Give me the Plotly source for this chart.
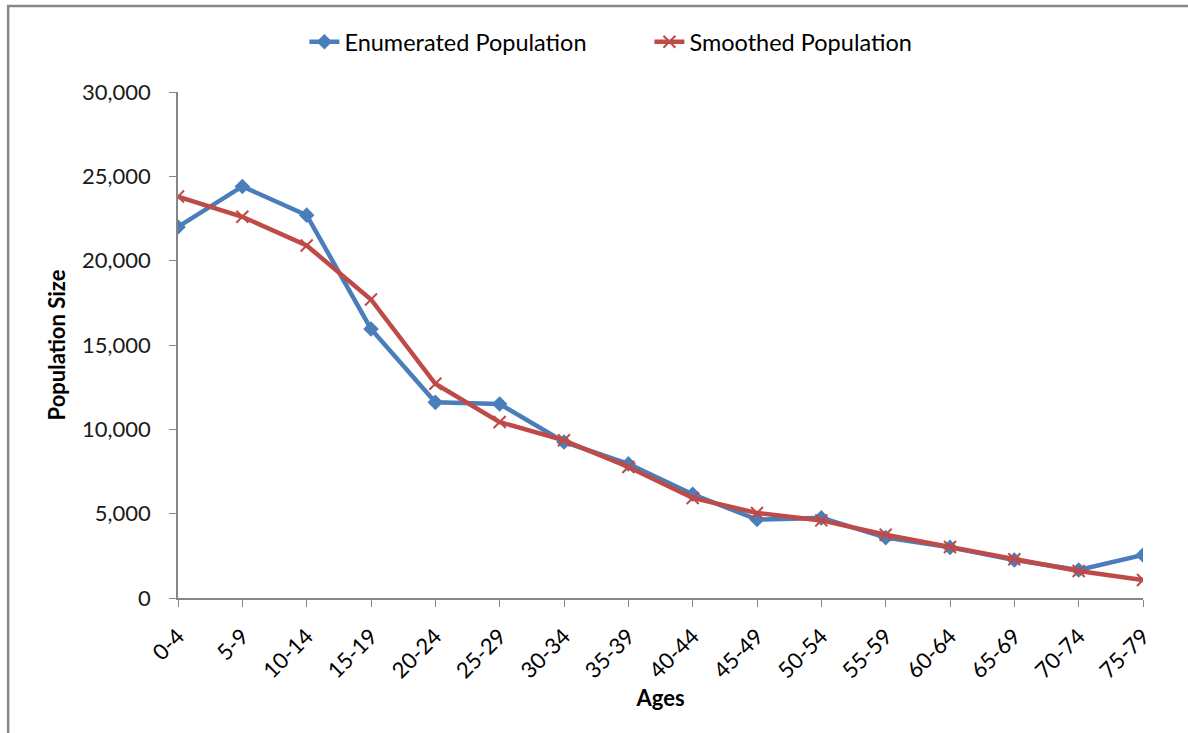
import plotly.graph_objects as go

ages = ["0-4", "5-9", "10-14", "15-19", "20-24", "25-29", "30-34", "35-39",
        "40-44", "45-49", "50-54", "55-59", "60-64", "65-69", "70-74", "75-79"]

enumerated = [22000, 24400, 22700, 15950, 11600, 11500, 9250, 7950,
              6150, 4650, 4750, 3580, 3000, 2250, 1660, 2550]

smoothed = [23800, 22600, 20900, 17700, 12700, 10430, 9350, 7770,
            5930, 5040, 4600, 3750, 3020, 2300, 1600, 1070]

blue = "#4A7EBB"
red = "#BE4B48"
font_family = "Lato, 'Open Sans', sans-serif"

fig = go.Figure()
fig.add_trace(go.Scatter(
    x=ages, y=enumerated, name="Enumerated Population", mode="lines+markers",
    line=dict(color=blue, width=4.5),
    marker=dict(symbol="diamond", size=12, color=blue),
))
fig.add_trace(go.Scatter(
    x=ages, y=smoothed, name="Smoothed Population", mode="lines+markers",
    line=dict(color=red, width=4.5),
    marker=dict(symbol="x-thin", size=12, color=red, line=dict(color=red, width=2)),
))

axis_line = "#868686"
fig.update_layout(
    width=1188, height=733,
    margin=dict(l=178, r=45, t=92, b=135),
    paper_bgcolor="white", plot_bgcolor="white",
    font=dict(family=font_family, size=21, color="#000000"),
    showlegend=True,
    legend=dict(orientation="h", x=0.131, xanchor="left", y=1.099, yanchor="middle",
                font=dict(size=23.5, color="#000000"), bgcolor="rgba(0,0,0,0)",
                entrywidth=300, entrywidthmode="pixels",
                traceorder="normal"),
    xaxis=dict(
        type="category", range=[0, 15],
        showline=True, linecolor=axis_line, linewidth=1.5,
        ticks="outside", ticklen=7, tickcolor=axis_line,
        tickangle=-45, tickfont=dict(size=22, color="#000000"),
        ticklabelstandoff=8,
        showgrid=False, zeroline=False,
        title=dict(text="<b>Ages</b>", font=dict(size=22), standoff=8),
    ),
    yaxis=dict(
        range=[0, 30000], tickvals=[0, 5000, 10000, 15000, 20000, 25000, 30000],
        tickformat=",d",
        showline=True, linecolor=axis_line, linewidth=1.5,
        ticks="outside", ticklen=7, tickcolor=axis_line,
        tickfont=dict(size=22, color="#1a1a1a"),
        ticklabelstandoff=14,
        showgrid=False, zeroline=False,
        title=dict(text="<b>Population Size</b>", font=dict(size=22), standoff=10),
    ),
)

# outer chart frame
fig.add_shape(type="rect", xref="paper", yref="paper",
              x0=-0.176, x1=1.2, y0=-0.4, y1=1.17,
              line=dict(color="#878787", width=2.5), fillcolor="rgba(0,0,0,0)",
              layer="below")

fig.write_html("out.html")
